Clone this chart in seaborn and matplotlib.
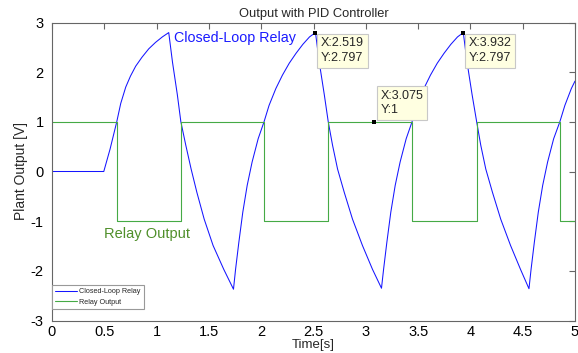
import matplotlib
matplotlib.use("Agg")
import matplotlib.pyplot as plt
import seaborn as sns
import pandas as pd

# ---- data ----
time_cl = [0.000, 0.495, 0.555, 0.619, 0.657, 0.705, 0.750, 0.800, 0.860, 0.925,
           0.990, 1.055, 1.116,
           1.152, 1.198, 1.232, 1.279, 1.330, 1.385, 1.455, 1.540, 1.642, 1.735,
           1.755, 1.786, 1.824, 1.866, 1.913, 1.971, 2.027, 2.075, 2.140, 2.203,
           2.268, 2.333, 2.398, 2.462, 2.519,
           2.555, 2.603, 2.641, 2.682, 2.730, 2.794, 2.873, 2.968, 3.064, 3.150,
           3.170, 3.201, 3.239, 3.281, 3.328, 3.386, 3.442, 3.490, 3.555, 3.618,
           3.683, 3.748, 3.813, 3.877, 3.932,
           3.968, 4.016, 4.060, 4.099, 4.147, 4.211, 4.290, 4.384, 4.479, 4.560,
           4.580, 4.611, 4.649, 4.691, 4.738, 4.796, 4.855, 4.903, 4.965, 5.000]
out_cl = [0.00, 0.00, 0.45, 1.00, 1.37, 1.70, 1.92, 2.12, 2.30, 2.47,
          2.60, 2.71, 2.797,
          2.20, 1.55, 1.00, 0.53, 0.05, -0.42, -0.96, -1.49, -1.97, -2.37,
          -1.97, -1.43, -0.82, -0.28, 0.19, 0.66, 1.00, 1.33, 1.67, 1.94,
          2.18, 2.38, 2.56, 2.71, 2.797,
          2.20, 1.55, 1.00, 0.53, 0.05, -0.42, -0.96, -1.49, -1.97, -2.35,
          -1.97, -1.43, -0.82, -0.28, 0.19, 0.66, 1.00, 1.33, 1.67, 1.94,
          2.18, 2.38, 2.56, 2.71, 2.797,
          2.20, 1.55, 1.00, 0.53, 0.05, -0.42, -0.96, -1.49, -1.97, -2.36,
          -1.97, -1.43, -0.82, -0.28, 0.19, 0.66, 1.00, 1.33, 1.67, 1.82]

relay_t = [0.0, 0.619, 1.232, 2.030, 2.641, 3.443, 4.062, 4.858, 5.0]
relay_v = [1, -1, 1, -1, 1, -1, 1, -1, -1]

tip_x = [2.519, 3.075, 3.932]
tip_y = [2.797, 1.0, 2.797]

x_ticks = [0, 0.5, 1, 1.5, 2, 2.5, 3, 3.5, 4, 4.5, 5]
x_tick_labels = ["0", "0.5", "1", "1.5", "2", "2.5", "3", "3.5", "4", "4.5", "5"]
y_ticks = [-3, -2, -1, 0, 1, 2, 3]
y_tick_labels = ["-3", "-2", "-1", "0", "1", "2", "3"]

series_names = ["Closed-Loop Relay", "Relay Output"]
title = "Output with PID Controller"
x_label = "Time[s]"
y_label = "Plant Output [V]"

# ---- style ----
sns.set_style("white")
plt.rcParams["font.family"] = ["Liberation Sans", "DejaVu Sans"]
narrow = ["Liberation Sans Narrow", "Liberation Sans", "DejaVu Sans"]

blue = "#1515ff"
green = "#45aa45"
spine_c = "#666666"

df_cl = pd.DataFrame({"t": time_cl, "y": out_cl})
df_rl = pd.DataFrame({"t": relay_t, "y": relay_v})

fig = plt.figure(figsize=(5.78, 3.53), dpi=100)
W, H = 578, 353
ax = fig.add_axes([52 / W, 1 - 320.5 / H, (575 - 52) / W, (320.5 - 22.5) / H])

sns.lineplot(data=df_cl, x="t", y="y", ax=ax, color=blue, lw=0.75,
             label=series_names[0], sort=False, estimator=None)
sns.lineplot(data=df_rl, x="t", y="y", ax=ax, color=green, lw=0.8,
             label=series_names[1], sort=False, estimator=None,
             drawstyle="steps-post")

ax.set_xlim(0, 5)
ax.set_ylim(-3, 3)
ax.set_xticks(x_ticks)
ax.set_xticklabels(x_tick_labels, family=narrow, fontsize=10.5)
ax.set_yticks(y_ticks)
ax.set_yticklabels(y_tick_labels, family=narrow, fontsize=10.5)
ax.tick_params(direction="in", length=4, width=0.8, top=True, right=True,
               color=spine_c, labelcolor="black")
ax.tick_params(axis="x", pad=3)
ax.tick_params(axis="y", pad=6)
for s in ax.spines.values():
    s.set_color(spine_c)
    s.set_linewidth(0.8)

ax.set_title(title, fontsize=9.3, pad=4)
ax.set_xlabel(x_label, family=narrow, fontsize=9.5, labelpad=0)
ax.set_ylabel(y_label, family=narrow, fontsize=10, labelpad=2)

# in-plot labels
ax.text(1.163, 2.69, series_names[0], color="#1a1aff", fontsize=10.3,
        ha="left", va="center")
ax.text(0.495, -1.25, series_names[1], color="#4f8f2a", fontsize=10.5,
        ha="left", va="center")

# data tips
sns.scatterplot(x=tip_x, y=tip_y, ax=ax, marker="s", color="black", s=9,
                edgecolor="black", linewidth=0, zorder=5)
tip_box = dict(boxstyle="square,pad=0.3", fc="#ffffe1", ec="#c8c8c8", lw=0.8)
offsets = [((4.0, -3.4), "top"), ((5.0, 4.0), "bottom"), ((4.0, -3.4), "top")]
for xv, yv, (off, va) in zip(tip_x, tip_y, offsets):
    ax.annotate(f"X:{xv:g}\nY:{yv:g}", xy=(xv, yv), xytext=off,
                textcoords="offset points", ha="left", va=va, fontsize=9,
                bbox=tip_box, linespacing=1.3, zorder=6)

leg = ax.legend(loc="lower left", bbox_to_anchor=(0, 0.04), borderaxespad=0,
                fontsize=5.2, handlelength=3, handletextpad=0.4,
                labelspacing=0.45, borderpad=0.4, fancybox=False,
                framealpha=1, edgecolor="#999999")
leg.get_frame().set_linewidth(0.8)

fig.savefig("out.png", dpi=100)
